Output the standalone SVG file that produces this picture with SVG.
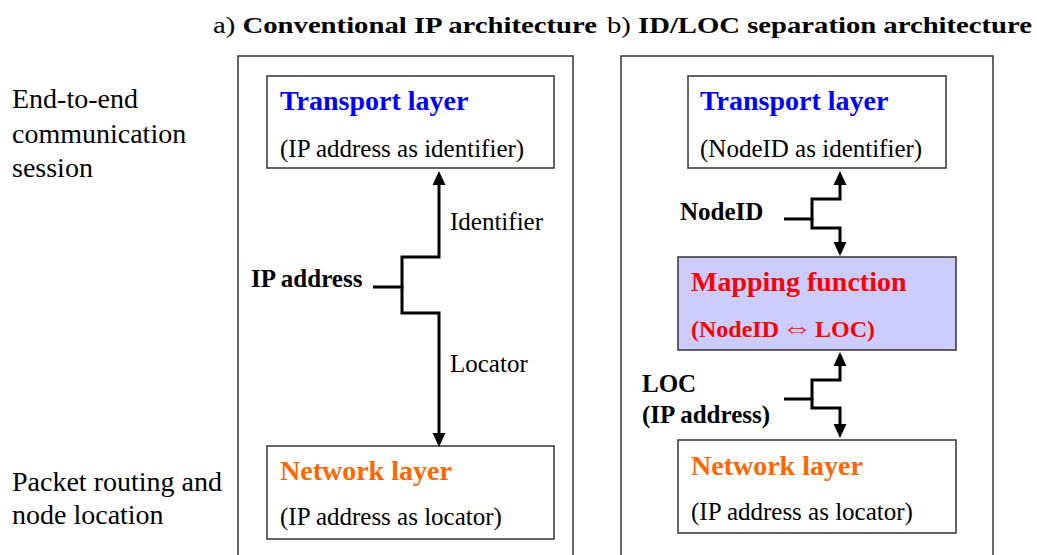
<svg xmlns="http://www.w3.org/2000/svg" width="1037" height="555" viewBox="0 0 1037 555">
<defs>
<style>
text{font-family:'Liberation Serif','Times New Roman',serif;fill:#000}
.b{font-weight:bold}
.h{font-size:28px;font-weight:bold}
.p{font-size:25px}
.side{font-size:28px}
.lbl{font-size:25px;font-weight:bold}
.blue{fill:#0000ff}
.orange{fill:#ff6600}
.red{fill:#ff0000}
.panel{fill:#fff;stroke:#333;stroke-width:1.5}
.box{fill:#fff;stroke:#333;stroke-width:1.5}
.map{fill:#ccccff;stroke:#333;stroke-width:1.5}
.conn{fill:none;stroke:#000;stroke-width:3;stroke-linejoin:miter;marker-end:url(#ah)}
</style>
<marker id="ah" markerUnits="userSpaceOnUse" markerWidth="14" markerHeight="14" refX="0" refY="6" orient="auto" viewBox="0 0 13 12">
<path d="M0,0 L13,6 L0,12 z" fill="#000"/>
</marker>
</defs>
<rect width="1037" height="555" fill="#fff"/>

<g id="titles">
<text x="213" y="33" font-size="24" textLength="384" lengthAdjust="spacingAndGlyphs">a) <tspan class="b">Conventional IP architecture</tspan></text>
<text x="607" y="33" font-size="24" textLength="425" lengthAdjust="spacingAndGlyphs">b) <tspan class="b">ID/LOC separation architecture</tspan></text>
</g>

<g id="side-labels">
<text class="side" x="12" y="108">End-to-end</text>
<text class="side" x="12" y="143">communication</text>
<text class="side" x="12" y="177">session</text>
<text class="side" x="12" y="491">Packet routing and</text>
<text class="side" x="12" y="524">node location</text>
</g>

<g id="panel-a">
<rect class="panel" x="238" y="56" width="335" height="510"/>
</g>
<g id="panel-b">
<rect class="panel" x="621" y="56" width="372" height="510"/>
</g>

<g id="a-transport">
<rect class="box" x="267" y="76" width="287" height="92"/>
<text class="h blue" x="280" y="110">Transport layer</text>
<text class="p" x="280" y="157">(IP address as identifier)</text>
</g>
<g id="a-network">
<rect class="box" x="267" y="446" width="287" height="93"/>
<text class="h orange" x="280" y="480">Network layer</text>
<text class="p" x="280" y="525">(IP address as locator)</text>
</g>
<g id="a-labels">
<text class="lbl" x="251" y="287">IP address</text>
<text class="p" x="450" y="230">Identifier</text>
<text class="p" x="450" y="372">Locator</text>
</g>

<g id="b-transport">
<rect class="box" x="688" y="76" width="258" height="92"/>
<text class="h blue" x="700" y="110">Transport layer</text>
<text class="p" x="700" y="157">(NodeID as identifier)</text>
</g>
<g id="b-mapping">
<rect class="map" x="678" y="257" width="278" height="93"/>
<text class="h red" x="691" y="291">Mapping function</text>
<text class="red b" font-size="24" x="691" y="337">(NodeID<tspan font-size="30" dx="3">⇔</tspan><tspan dx="3">LOC)</tspan></text>
</g>
<g id="b-network">
<rect class="box" x="678" y="440" width="278" height="93"/>
<text class="h orange" x="691" y="475">Network layer</text>
<text class="p" x="691" y="520">(IP address as locator)</text>
</g>
<g id="b-labels">
<text class="lbl" x="680" y="220">NodeID</text>
<text class="lbl" x="642" y="392">LOC</text>
<text class="lbl" x="642" y="423">(IP address)</text>
</g>

<g id="connectors">
<path class="conn" d="M373,287 H402 V257 H439 V185"/>
<path class="conn" d="M402,286 V313 H439 V433"/>
<path class="conn" d="M784,219 H812 V199 H840 V185"/>
<path class="conn" d="M812,218 V228 H840 V242"/>
<path class="conn" d="M784,399 H812 V380 H840 V366"/>
<path class="conn" d="M812,398 V408 H840 V424"/>
</g>
</svg>
